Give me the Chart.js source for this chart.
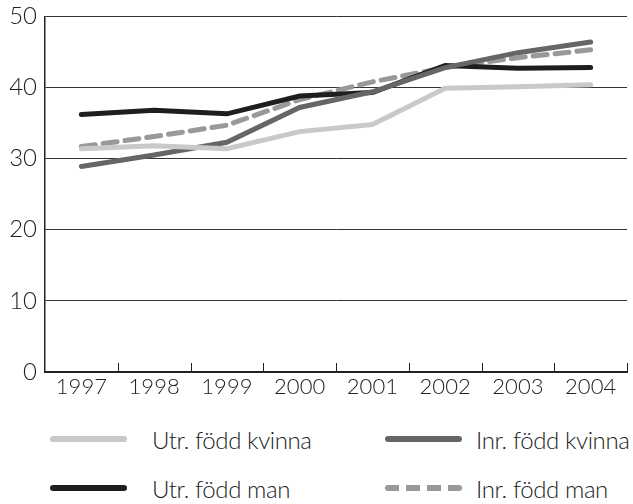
<!DOCTYPE html>
<html lang="sv">
<head>
<meta charset="UTF-8">
<title>Andel per år</title>
<script src="https://cdn.jsdelivr.net/npm/chart.js@4.4.1/dist/chart.umd.min.js"></script>
<style>
    body {
        margin: 0;
        background: #fff;
        font-family: 'Lato', sans-serif;
        font-weight: 300;
        color: #222;
        overflow: hidden;
    }
    .chart-container {
        position: relative;
        width: 633px;
        height: 411px;
        margin-top: -6px;
    }
    .legend {
        position: relative;
        width: 633px;
        height: 99px;
    }
    .legend .swatch {
        position: absolute;
        width: 77px;
        height: 6px;
        border-radius: 3px;
    }
    .legend .label {
        position: absolute;
        font-size: 24px;
        letter-spacing: -0.4px;
        line-height: 28px;
        white-space: nowrap;
    }
</style>
</head>
<body>
<div class="chart-container">
    <canvas id="chart"></canvas>
</div>
<div class="legend" id="legend"></div>

<script>
    const years = ['1997', '1998', '1999', '2000', '2001', '2002', '2003', '2004'];
    const utrKvinna = [31.4, 31.8, 31.4, 33.8, 34.8, 39.9, 40.1, 40.4];
    const inrKvinna = [28.9, 30.5, 32.3, 37.2, 39.4, 42.8, 44.9, 46.4];
    const utrMan = [36.2, 36.8, 36.3, 38.8, 39.3, 43.1, 42.7, 42.8];
    const inrMan = [31.7, 33.1, 34.7, 38.3, 40.8, 42.8, 44.2, 45.3];
    const yTicks = [0, 10, 20, 30, 40, 50];

    const series = [
        { label: 'Utr. född kvinna', data: utrKvinna, color: '#c9c9c9', dash: [] },
        { label: 'Inr. född kvinna', data: inrKvinna, color: '#666666', dash: [] },
        { label: 'Utr. född man', data: utrMan, color: '#1e1e1e', dash: [] },
        { label: 'Inr. född man', data: inrMan, color: '#999999', dash: [14, 8] }
    ];

    // small tick marks pointing up from the x axis, at category boundaries
    const innerTicks = {
        id: 'innerTicks',
        afterDraw(chart) {
            const x = chart.scales.x;
            const area = chart.chartArea;
            const ctx = chart.ctx;
            ctx.save();
            ctx.strokeStyle = '#222';
            ctx.lineWidth = 1;
            for (let i = 1; i <= years.length; i++) {
                let px;
                if (i < years.length) {
                    px = (x.getPixelForValue(i - 1) + x.getPixelForValue(i)) / 2;
                } else {
                    px = area.right - 0.5;
                }
                ctx.beginPath();
                ctx.moveTo(Math.round(px) + 0.5, area.bottom);
                ctx.lineTo(Math.round(px) + 0.5, area.bottom - 9);
                ctx.stroke();
            }
            ctx.restore();
        }
    };

    const ctx = document.getElementById('chart').getContext('2d');
    new Chart(ctx, {
        type: 'line',
        data: {
            labels: years,
            datasets: series.map(s => ({
                label: s.label,
                data: s.data,
                borderColor: s.color,
                borderWidth: 5,
                borderDash: s.dash,
                borderCapStyle: 'round',
                pointRadius: 0,
                tension: 0,
                fill: false
            }))
        },
        options: {
            responsive: true,
            maintainAspectRatio: false,
            animation: false,
            layout: { padding: { top: 10, right: 6, left: 0, bottom: 0 } },
            plugins: {
                legend: { display: false },
                tooltip: { enabled: false }
            },
            scales: {
                x: {
                    offset: true,
                    grid: { display: false, drawTicks: false },
                    border: { color: '#222', width: 2 },
                    ticks: {
                        color: '#222',
                        padding: 2,
                        font: { family: 'Lato', weight: 300, size: 22 }
                    },
                    afterFit(scale) { scale.height = 33; }
                },
                y: {
                    min: 0,
                    max: 50,
                    afterBuildTicks(scale) {
                        scale.ticks = yTicks.map(v => ({ value: v }));
                    },
                    grid: {
                        color: '#333',
                        lineWidth: 1,
                        drawTicks: false
                    },
                    border: { color: '#222', width: 1.5 },
                    ticks: {
                        color: '#222',
                        padding: 8,
                        font: { family: 'Lato', weight: 300, size: 24 }
                    },
                    afterFit(scale) { scale.width = 45; }
                }
            }
        },
        plugins: [innerTicks]
    });

    // legend in two columns under the chart
    const legendPos = [
        { swatch: 50, text: 152, row: 34 },
        { swatch: 385, text: 476, row: 34 },
        { swatch: 50, text: 152, row: 83 },
        { swatch: 385, text: 476, row: 83 }
    ];
    const legend = document.getElementById('legend');
    series.forEach((s, i) => {
        const p = legendPos[i];
        const sw = document.createElement('div');
        sw.className = 'swatch';
        sw.style.left = p.swatch + 'px';
        sw.style.top = (p.row - 3) + 'px';
        if (s.dash.length) {
            sw.style.background = 'repeating-linear-gradient(90deg, ' + s.color +
                ' 0 14px, transparent 14px 21px)';
        } else {
            sw.style.background = s.color;
        }
        const txt = document.createElement('div');
        txt.className = 'label';
        txt.style.left = p.text + 'px';
        txt.style.top = (p.row - 13) + 'px';
        txt.textContent = s.label;
        legend.appendChild(sw);
        legend.appendChild(txt);
    });
</script>
</body>
</html>
